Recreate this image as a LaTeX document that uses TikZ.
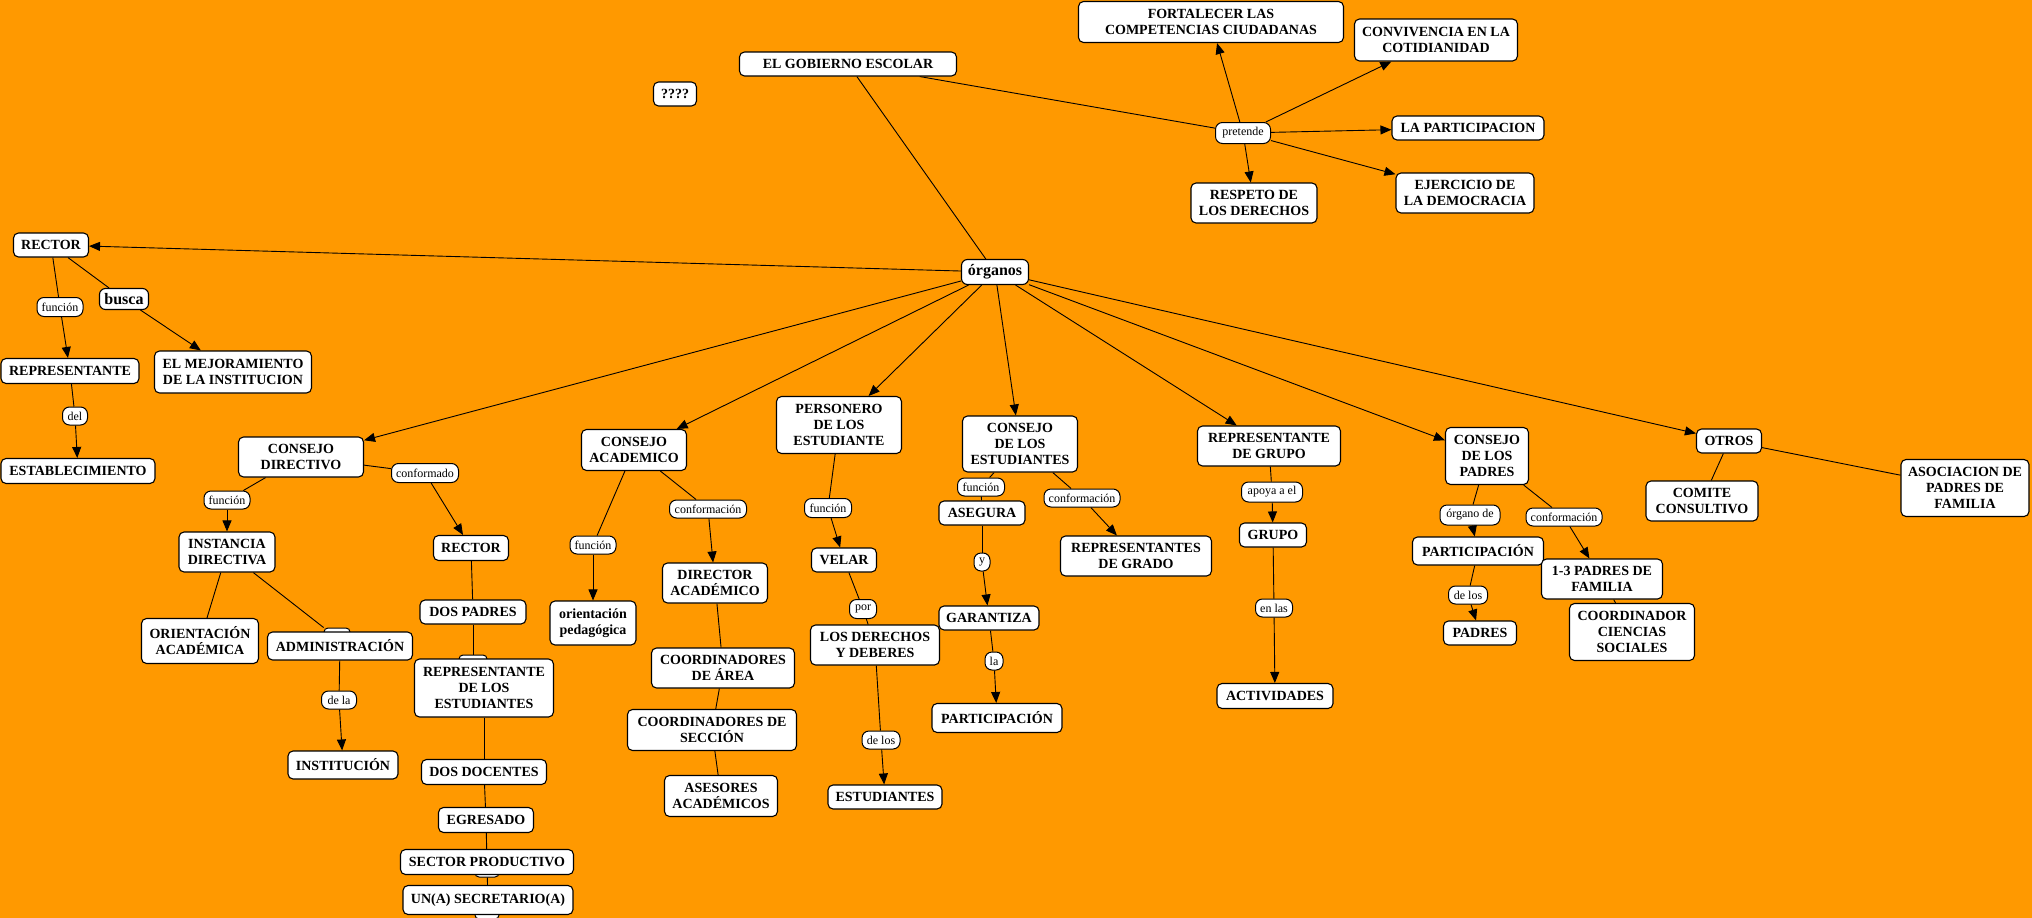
\documentclass[tikz,border=0pt]{standalone}
\usepackage{fontspec}
\setmainfont{Liberation Serif}
\usetikzlibrary{arrows.meta}
\definecolor{bgorange}{RGB}{255,153,0}
\pgfdeclarelayer{back}
\pgfdeclarelayer{edges}
\pgfsetlayers{back,edges,main}
\tikzset{
  cbox/.style={draw=black, line width=1.1pt, fill=white, rounded corners=5pt, align=center, inner sep=0pt, font=\bfseries\fontsize{14}{16}\selectfont},
  lbox/.style={draw=black, line width=1pt, fill=white, rounded corners=7pt, align=center, inner sep=0pt, font=\fontsize{12}{14}\selectfont},
  bigl/.style={cbox, rounded corners=6pt, font=\bfseries\fontsize{16}{18}\selectfont},
  hbox/.style={draw=black, line width=1pt, fill=white, rounded corners=4pt, inner sep=0pt},
  con/.style={line width=0.9pt},
  arr/.style={con, -{Triangle[length=11pt,width=9pt]}},
}
\newcommand{\bx}[6][cbox]{\node[#1, minimum width=#5pt, minimum height=#6pt] (#2) at (#3,#4)}
\begin{document}
\begin{tikzpicture}[x=1pt,y=-1pt]
\begin{pgfonlayer}{back}
\fill[bgorange] (0,0) rectangle (2032,918);
\end{pgfonlayer}
\useasboundingbox (0,0) rectangle (2032,918);

% hidden linking boxes
\bx[hbox]{hA}{337}{638}{26}{20}{};
\bx[hbox]{hB}{473}{664}{28}{18}{};
\bx[hbox]{hC}{487}{868}{24}{18}{};
\bx[hbox]{hD}{487}{910}{24}{18}{};

% top
\bx{gob}{848}{64}{217}{24}{EL GOBIERNO ESCOLAR};
\bx{qq}{675}{94}{43}{24}{????};
\bx{fort}{1211}{22}{265}{41}{FORTALECER LAS\\COMPETENCIAS CIUDADANAS};
\bx{conv}{1436}{40}{163}{42}{CONVIVENCIA EN LA\\COTIDIANIDAD};
\bx[lbox]{pret}{1243}{133}{55}{21}{pretende};
\bx{lapart}{1468}{128}{152}{24}{LA PARTICIPACION};
\bx{resp}{1254}{203}{126}{40}{RESPETO DE\\LOS DERECHOS};
\bx{ejer}{1465}{193}{138}{40}{EJERCICIO DE\\LA DEMOCRACIA};
\bx[bigl]{org}{995}{272}{67}{25}{órganos};

% left
\bx{rect1}{51}{245}{75}{24}{RECTOR};
\bx[lbox]{fun1}{60}{307}{46}{19}{función};
\bx[bigl]{busca}{124}{299}{49}{21}{busca};
\bx{repr}{70}{371}{138}{25}{REPRESENTANTE};
\bx{mejor}{233}{372}{157}{42}{EL MEJORAMIENTO\\DE LA INSTITUCION};
\bx[lbox]{del}{75}{416}{25}{18}{del};
\bx{estab}{78}{471}{154}{25}{ESTABLECIMIENTO};

% consejo directivo
\bx{cd}{301}{457}{125}{40}{CONSEJO\\DIRECTIVO};
\bx[lbox]{conf1}{425}{473}{67}{19}{conformado};
\bx[lbox]{fun2}{227}{500}{46}{18}{función};
\bx{inst}{227}{552}{96}{40}{INSTANCIA\\DIRECTIVA};
\bx{rect2}{471}{548}{75}{25}{RECTOR};
\bx{oriac}{200}{641}{117}{45}{ORIENTACIÓN\\ACADÉMICA};
\bx{adm}{340}{646}{145}{28}{ADMINISTRACIÓN};
\bx[lbox]{dela}{339}{700}{35}{18}{de la};
\bx{instit}{343}{765}{110}{28}{INSTITUCIÓN};
\bx{dosp}{473}{612}{106}{24}{DOS PADRES};
\bx{repest}{484}{688}{139}{58}{REPRESENTANTE\\DE LOS\\ESTUDIANTES};
\bx{dosd}{484}{772}{125}{25}{DOS DOCENTES};
\bx{egr}{486}{820}{95}{25}{EGRESADO};
\bx{sect}{487}{862}{173}{25}{SECTOR PRODUCTIVO};
\bx{secr}{488}{900}{170}{29}{UN(A) SECRETARIO(A)};

% consejo academico
\bx{ca}{634}{450}{105}{41}{CONSEJO\\ACADEMICO};
\bx[lbox]{fun3}{593}{545}{46}{18}{función};
\bx{orped}{593}{623}{86}{44}{orientación\\pedagógica};
\bx[lbox]{conf2}{708}{509}{77}{18}{conformación};
\bx{dir}{715}{583}{105}{40}{DIRECTOR\\ACADÉMICO};
\bx{coar}{723}{668}{143}{40}{COORDINADORES\\DE ÁREA};
\bx{cose}{712}{730}{169}{41}{COORDINADORES DE\\SECCIÓN};
\bx{ases}{721}{796}{113}{41}{ASESORES\\ACADÉMICOS};

% personero
\bx{pers}{839}{425}{125}{57}{PERSONERO\\DE LOS\\ESTUDIANTE};
\bx[lbox]{fun4}{828}{508}{47}{19}{función};
\bx{velar}{844}{560}{65}{24}{VELAR};
\bx[lbox]{por}{863}{609}{27}{19}{por};
\bx{ldyd}{875}{645}{129}{40}{LOS DERECHOS\\Y DEBERES};
\bx[lbox]{delos1}{881}{740}{38}{18}{de los};
\bx{estud}{885}{797}{114}{24}{ESTUDIANTES};

% consejo de los estudiantes
\bx{ce}{1020}{444}{115}{56}{CONSEJO\\DE LOS\\ESTUDIANTES};
\bx[lbox]{fun5}{981}{487}{47}{18}{función};
\bx{aseg}{982}{513}{86}{24}{ASEGURA};
\bx[lbox]{yy}{982}{562}{16}{18}{y};
\bx{gar}{989}{618}{100}{24}{GARANTIZA};
\bx[lbox]{la}{994}{661}{18}{18}{la};
\bx{partic}{997}{718}{130}{29}{PARTICIPACIÓN};
\bx[lbox]{conf3}{1082}{498}{76}{18}{conformación};
\bx{repgrad}{1136}{556}{151}{40}{REPRESENTANTES\\DE GRADO};

% representante de grupo
\bx{repgru}{1269}{446}{143}{40}{REPRESENTANTE\\DE GRUPO};
\bx[lbox]{apoya}{1272}{492}{61}{20}{apoya a el};
\bx{grupo}{1273}{535}{67}{24}{GRUPO};
\bx[lbox]{enlas}{1274}{608}{37}{18}{en las};
\bx{activ}{1275}{696}{116}{25}{ACTIVIDADES};

% consejo de los padres
\bx{cp}{1487}{456}{83}{57}{CONSEJO\\DE LOS\\PADRES};
\bx[lbox]{organo}{1470}{515}{60}{20}{órgano de};
\bx[lbox]{conf4}{1564}{517}{76}{18}{conformación};
\bx{partcp}{1478}{551}{131}{28}{PARTICIPACIÓN};
\bx{trespad}{1602}{579}{121}{40}{1-3 PADRES DE\\FAMILIA};
\bx[lbox]{delos2}{1468}{595}{39}{18}{de los};
\bx{padres}{1480}{633}{73}{24}{PADRES};
\bx{coord}{1632}{632}{125}{57}{COORDINADOR\\CIENCIAS\\SOCIALES};

% otros
\bx{otros}{1729}{441}{65}{24}{OTROS};
\bx{comite}{1702}{501}{112}{40}{COMITE\\CONSULTIVO};
\bx{asoc}{1965}{488}{128}{57}{ASOCIACION DE\\PADRES DE\\FAMILIA};

\begin{pgfonlayer}{edges}
% top
\draw[con] (gob) -- (pret);
\draw[arr] (pret) -- (fort);
\draw[arr] (pret) -- (conv);
\draw[arr] (pret) -- (lapart);
\draw[arr] (pret) -- (resp);
\draw[arr] (pret) -- (ejer);
\draw[con] (gob) -- (org);
% from organos
\draw[arr] (org) -- (rect1);
\draw[arr] (org) -- (cd);
\draw[arr] (org) -- (ca);
\draw[arr] (org) -- (pers);
\draw[arr] (org) -- (ce);
\draw[arr] (org) -- (repgru);
\draw[arr] (org) -- (cp);
\draw[arr] (org) -- (otros);
% rector
\draw[con] (rect1) -- (fun1);
\draw[arr] (fun1) -- (repr);
\draw[con] (rect1) -- (busca);
\draw[arr] (busca) -- (mejor);
\draw[con] (repr) -- (del);
\draw[arr] (del) -- (estab);
% consejo directivo
\draw[con] (cd) -- (fun2);
\draw[arr] (fun2) -- (inst);
\draw[con] (cd) -- (conf1);
\draw[arr] (conf1) -- (rect2);
\draw[con] (inst) -- (oriac);
\draw[con] (inst) -- (hA);
\draw[con] (adm) -- (dela);
\draw[arr] (dela) -- (instit);
\draw[con] (rect2) -- (dosp);
\draw[con] (dosp) -- (hB);
\draw[con] (repest) -- (dosd);
\draw[con] (dosd) -- (egr);
\draw[con] (egr) -- (sect);
\draw[con] (hC) -- (secr);
% consejo academico
\draw[con] (ca) -- (fun3);
\draw[arr] (fun3) -- (orped);
\draw[con] (ca) -- (conf2);
\draw[arr] (conf2) -- (dir);
\draw[con] (dir) -- (coar);
\draw[con] (coar) -- (cose);
\draw[con] (cose) -- (ases);
% personero
\draw[con] (pers) -- (fun4);
\draw[arr] (fun4) -- (velar);
\draw[con] (velar) -- (por);
\draw[con] (por) -- (ldyd);
\draw[con] (ldyd) -- (delos1);
\draw[arr] (delos1) -- (estud);
% consejo estudiantes
\draw[con] (ce) -- (fun5);
\draw[con] (fun5) -- (aseg);
\draw[con] (aseg) -- (yy);
\draw[arr] (yy) -- (gar);
\draw[con] (gar) -- (la);
\draw[arr] (la) -- (partic);
\draw[con] (ce) -- (conf3);
\draw[arr] (conf3) -- (repgrad);
% representante de grupo
\draw[con] (repgru) -- (apoya);
\draw[arr] (apoya) -- (grupo);
\draw[con] (grupo) -- (enlas);
\draw[arr] (enlas) -- (activ);
% consejo padres
\draw[con] (cp) -- (organo);
\draw[arr] (organo) -- (partcp);
\draw[con] (partcp) -- (delos2);
\draw[arr] (delos2) -- (padres);
\draw[con] (cp) -- (conf4);
\draw[arr] (conf4) -- (trespad);
\draw[con] (trespad) -- (coord);
% otros
\draw[con] (otros) -- (comite);
\draw[con] (otros) -- (asoc);
\end{pgfonlayer}
\end{tikzpicture}
\end{document}
